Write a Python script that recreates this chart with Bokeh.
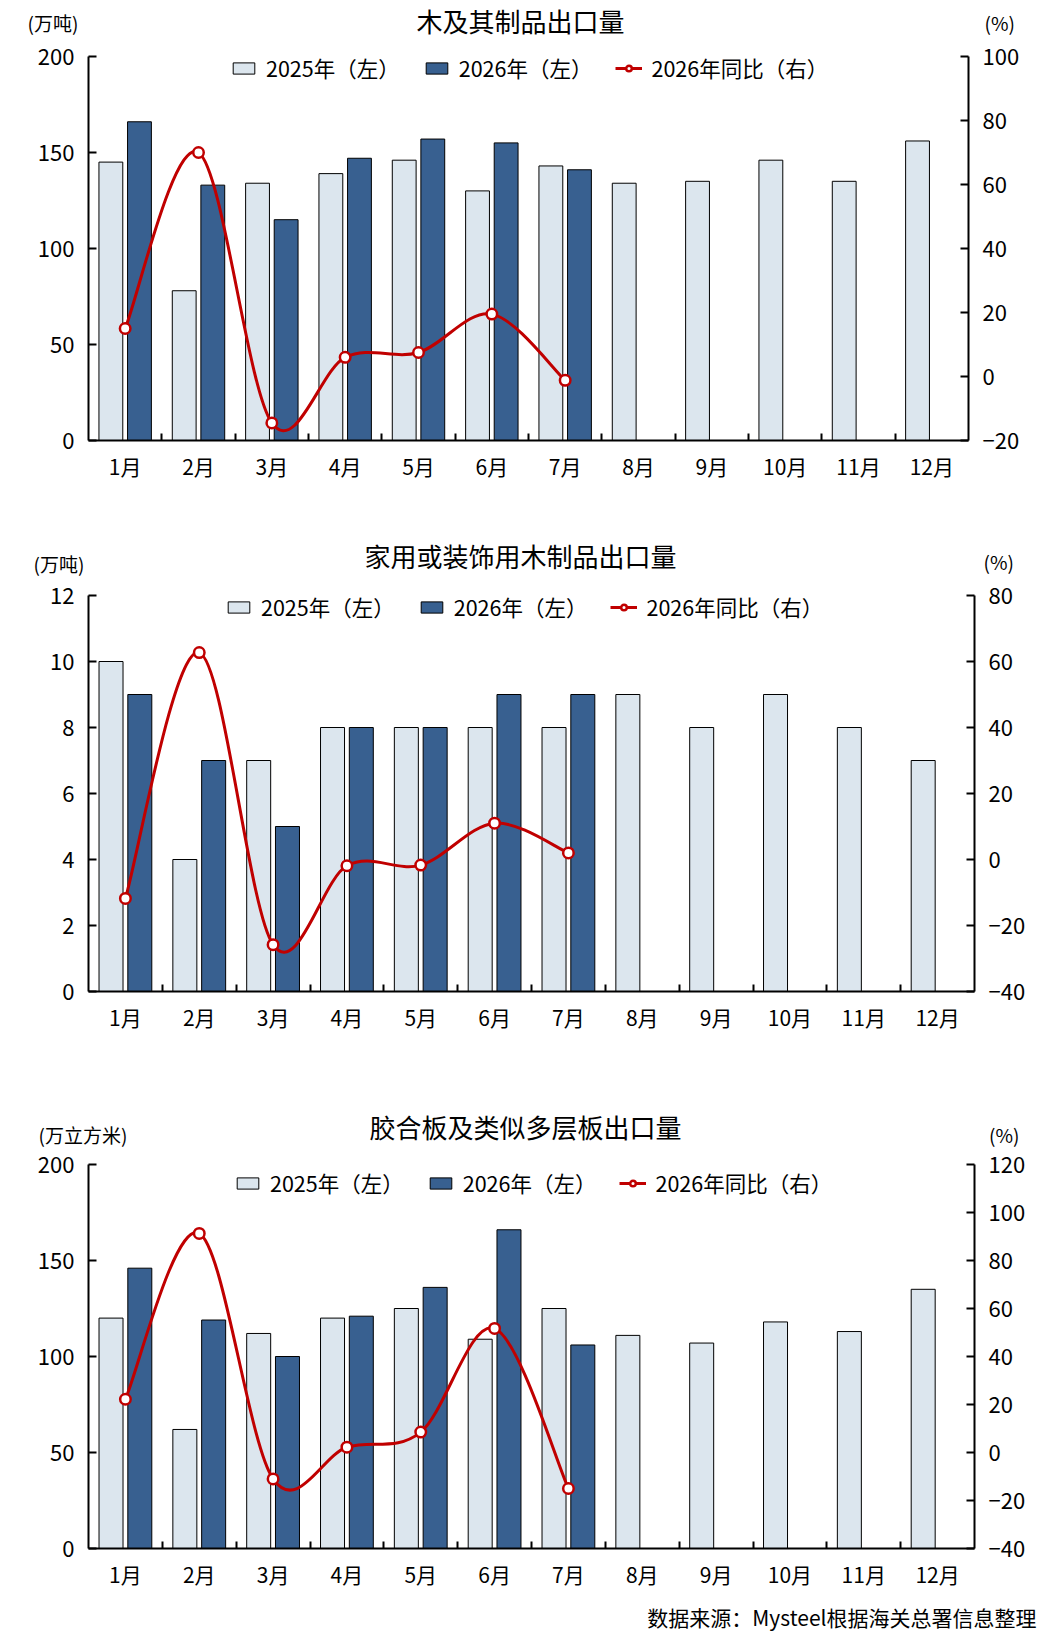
from bokeh.plotting import figure
from bokeh.models import (Range1d, LinearAxis, FixedTicker, Label, Legend,
                          LegendItem, ColumnDataSource)
from bokeh.layouts import column
from bokeh.transform import dodge
from bokeh.embed import file_html
from bokeh.resources import INLINE

FONT = "Noto Sans CJK SC"
C25 = "#DCE6EE"
C26 = "#386090"
RED = "#C00000"

months = ["1月", "2月", "3月", "4月", "5月", "6月",
          "7月", "8月", "9月", "10月", "11月", "12月"]
legend_labels = ["2025年（左）", "2026年（左）", "2026年同比（右）"]

# chart 1
c1_title = "木及其制品出口量"
c1_unit = "(万吨)"
c1_2025 = [145, 78, 134, 139, 146, 130, 143, 134, 135, 146, 135, 156]
c1_2026 = [166, 133, 115, 147, 157, 155, 141]
c1_yoy = [15, 70, -14.5, 6, 7.5, 19.5, -1.2]
c1_left_ticks = [0, 50, 100, 150, 200]
c1_right_ticks = [-20, 0, 20, 40, 60, 80, 100]

# chart 2
c2_title = "家用或装饰用木制品出口量"
c2_unit = "(万吨)"
c2_2025 = [10, 4, 7, 8, 8, 8, 8, 9, 8, 9, 8, 7]
c2_2026 = [9, 7, 5, 8, 8, 9, 9]
c2_yoy = [-11.8, 62.7, -25.8, -1.9, -1.7, 11, 2]
c2_left_ticks = [0, 2, 4, 6, 8, 10, 12]
c2_right_ticks = [-40, -20, 0, 20, 40, 60, 80]

# chart 3
c3_title = "胶合板及类似多层板出口量"
c3_unit = "(万立方米)"
c3_2025 = [120, 62, 112, 120, 125, 109, 125, 111, 107, 118, 113, 135]
c3_2026 = [146, 119, 100, 121, 136, 166, 106]
c3_yoy = [22.2, 91.3, -11, 2.2, 8.5, 51.7, -15]
c3_left_ticks = [0, 50, 100, 150, 200]
c3_right_ticks = [-40, -20, 0, 20, 40, 60, 80, 100, 120]

source_note = "数据来源：Mysteel根据海关总署信息整理"

TOP_PAD = 6  # px of empty frame above the axes' top tick (room for legend)


def style_axis(ax, standoff=14):
    ax.axis_line_width = 2
    ax.axis_line_color = "black"
    ax.major_tick_line_width = 2
    ax.major_tick_line_color = "black"
    ax.major_tick_in = 8
    ax.major_tick_out = 0
    ax.minor_tick_in = 0
    ax.minor_tick_out = 0
    ax.major_label_text_font = FONT
    ax.major_label_text_font_size = "22px"
    ax.major_label_text_color = "black"
    ax.major_label_standoff = standoff


def smooth(xs, ys):
    n = len(xs)
    d = dict(x0=[], y0=[], x1=[], y1=[], cx0=[], cy0=[], cx1=[], cy1=[])
    for i in range(n - 1):
        a = i - 1 if i > 0 else i
        b = i + 2 if i + 2 < n else i + 1
        d["x0"].append(xs[i]); d["y0"].append(ys[i])
        d["x1"].append(xs[i + 1]); d["y1"].append(ys[i + 1])
        d["cx0"].append(xs[i] + (xs[i + 1] - xs[a]) / 6)
        d["cy0"].append(ys[i] + (ys[i + 1] - ys[a]) / 6)
        d["cx1"].append(xs[i + 1] - (xs[b] - xs[i]) / 6)
        d["cy1"].append(ys[i + 1] - (ys[b] - ys[i]) / 6)
    return d


def text_label(x, y, dx, dy, text, size, align):
    return Label(x=x, y=y, x_offset=dx, y_offset=dy, text=text,
                 text_align=align, text_baseline="middle", text_font=FONT,
                 text_font_size=size, text_color="black")


def make_chart(title, unit, v25, v26, yoy, lticks, rticks, g):
    n = len(months)
    ymin, ymax = lticks[0], lticks[-1]
    rmin, rmax = rticks[0], rticks[-1]
    fh = g["fh"]
    ext = TOP_PAD / fh
    p = figure(frame_width=g["fw"], frame_height=fh + TOP_PAD,
               min_border_left=g["bl"], min_border_right=g["br"],
               min_border_top=g["bt"] - TOP_PAD, min_border_bottom=g["bb"],
               x_range=Range1d(0, n),
               y_range=Range1d(ymin, ymax + (ymax - ymin) * ext),
               output_backend="svg", toolbar_location=None)
    p.extra_y_ranges = {"pct": Range1d(rmin, rmax + (rmax - rmin) * ext)}
    p.outline_line_color = None
    p.xgrid.visible = False
    p.ygrid.visible = False
    p.background_fill_color = "white"
    p.border_fill_color = "white"

    xc = [i + 0.5 for i in range(n)]
    s25 = ColumnDataSource(dict(x=xc, top=v25))
    s26 = ColumnDataSource(dict(x=xc[:len(v26)], top=v26))
    r25 = p.vbar(x=dodge("x", -0.195), top="top", width=0.325, source=s25,
                 fill_color=C25, line_color="black", line_width=1)
    r26 = p.vbar(x=dodge("x", 0.195), top="top", width=0.325, source=s26,
                 fill_color=C26, line_color="black", line_width=1)

    xl = xc[:len(yoy)]
    bz = ColumnDataSource(smooth(xl, yoy))
    rb = p.bezier(x0="x0", y0="y0", x1="x1", y1="y1", cx0="cx0", cy0="cy0",
                  cx1="cx1", cy1="cy1", source=bz, y_range_name="pct",
                  line_color=RED, line_width=3)
    rs = p.scatter(x=xl, y=yoy, y_range_name="pct", marker="circle", size=10.5,
                   fill_color="white", line_color=RED, line_width=2.5)

    # axes
    xa = p.xaxis[0]
    style_axis(xa, standoff=10)
    xa.major_label_text_font_size = "21px"
    xa.ticker = FixedTicker(ticks=xc, minor_ticks=list(range(1, n)))
    xa.major_label_overrides = {x: m for x, m in zip(xc, months)}
    xa.major_tick_in = 0
    xa.minor_tick_in = 7
    xa.minor_tick_line_width = 2
    xa.minor_tick_line_color = "black"

    ya = p.yaxis[0]
    style_axis(ya)
    ya.ticker = FixedTicker(ticks=lticks)
    ya.bounds = (ymin, ymax)

    ra = LinearAxis(y_range_name="pct", ticker=FixedTicker(ticks=rticks),
                    bounds=(rmin, rmax))
    style_axis(ra)
    p.add_layout(ra, "right")

    legend = Legend(items=[LegendItem(label=legend_labels[0], renderers=[r25]),
                           LegendItem(label=legend_labels[1], renderers=[r26]),
                           LegendItem(label=legend_labels[2], renderers=[rb, rs])],
                    orientation="horizontal", location=(g["lx"], g["ly"]),
                    padding=0, margin=0, spacing=23, label_standoff=9,
                    glyph_width=27, glyph_height=14, label_height=20,
                    label_text_font=FONT, label_text_font_size="21.5px",
                    label_text_color="black", background_fill_alpha=0,
                    border_line_color=None)
    p.add_layout(legend, "center")

    # texts outside the frame live in side panels (not clipped)
    p.add_layout(text_label(n / 2, ymax, g["tx"], g["ty"], title, "26px", "center"),
                 "above")
    p.add_layout(text_label(0, ymax, g["ux"], g["uy"], unit, "19px", "left"),
                 "above")
    p.add_layout(text_label(n, ymax, g["px"], g["py"], "(%)", "19px", "left"),
                 "above")
    return p


g1 = dict(fw=880, fh=384, bl=88, br=70, bt=100, bb=50, lx=142, ly=357,
          tx=-8, ty=36, ux=-61, uy=34.5, px=16, py=34)
g2 = dict(fw=886, fh=396, bl=88, br=64, bt=105, bb=70, lx=137, ly=369,
          tx=-11, ty=40.5, ux=-55, uy=32, px=9, py=34)
g3 = dict(fw=886, fh=384, bl=83, br=69, bt=103, bb=90, lx=146, ly=350,
          tx=-6, ty=38.5, ux=-50, uy=30.5, px=14.5, py=30.5)

p1 = make_chart(c1_title, c1_unit, c1_2025, c1_2026, c1_yoy,
                c1_left_ticks, c1_right_ticks, g1)
p2 = make_chart(c2_title, c2_unit, c2_2025, c2_2026, c2_yoy,
                c2_left_ticks, c2_right_ticks, g2)
p3 = make_chart(c3_title, c3_unit, c3_2025, c3_2026, c3_yoy,
                c3_left_ticks, c3_right_ticks, g3)

p3.add_layout(text_label(len(months), 0, 62, -68, source_note, "21px", "right"),
              "below")

# the first figure's top border is larger than needed; pull it up so the
# plotting frame starts where the reference's does
p1.margin = (-44, 0, 0, 0)

layout = column(p1, p2, p3, spacing=0)
open("out.html", "w").write(file_html(layout, INLINE))
